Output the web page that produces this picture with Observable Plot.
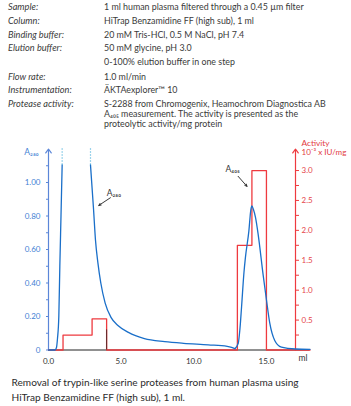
<!DOCTYPE html>
<html><head><meta charset="utf-8">
<script src="https://cdn.jsdelivr.net/npm/d3@7"></script>
<script src="https://cdn.jsdelivr.net/npm/@observablehq/plot@0.6"></script>
<style>
html,body{margin:0;padding:0;background:#fff;}
body{width:351px;height:406px;position:relative;overflow:hidden;font-family:Lato,"Open Sans",sans-serif;color:#333;}
.hl{position:absolute;font-size:8.85px;line-height:12px;white-space:nowrap;color:#3a3a3a;}
.lab{left:8px;font-style:italic;font-size:9.2px;}
.val{left:104px;}
#chart{position:absolute;left:0;top:135px;width:351px;height:240px;}
.cap{position:absolute;left:11.5px;font-size:10.1px;line-height:14px;white-space:nowrap;color:#2b2b2b;}
</style></head><body>
<div id="header"></div>
<div id="chart"></div>
<div id="caption"></div>
<script>
// ---------- text ----------
const specLabels = ["Sample:", "Column:", "Binding buffer:", "Elution buffer:", "", "Flow rate:", "Instrumentation:", "Protease activity:"];
const specValues = [
  "1 ml human plasma filtered through a 0.45 µm filter",
  "HiTrap Benzamidine FF (high sub), 1 ml",
  "20 mM Tris-HCl, 0.5 M NaCl, pH 7.4",
  "50 mM glycine, pH 3.0",
  "0-100% elution buffer in one step",
  "1.0 ml/min",
  "ÄKTAexplorer™ 10",
  "S-2288 from Chromogenix, Heamochrom Diagnostica AB"
];
const specNote = ["A₄₀₅ measurement. The activity is presented as the", "proteolytic activity/mg protein"];
const captionLines = ["Removal of trypin-like serine proteases from human plasma using", "HiTrap Benzamidine FF (high sub), 1 ml."];

// ---------- data ----------
// A280 trace (ml, absorbance); the main peak goes off scale
const a280Rise = [
  {ml: 0, a: 0}, {ml: 0.45, a: 0}, {ml: 0.55, a: 0.015}, {ml: 0.62, a: 0.07},
  {ml: 0.71, a: 0.2}, {ml: 0.78, a: 0.5}, {ml: 0.86, a: 0.8}, {ml: 0.94, a: 1.105}
];
const a280Decay = [
  {ml: 2.89, a: 1.105}, {ml: 3.1, a: 0.84}, {ml: 3.23, a: 0.66}, {ml: 3.4, a: 0.52},
  {ml: 3.6, a: 0.4}, {ml: 3.9, a: 0.28}, {ml: 4.3, a: 0.195}, {ml: 4.8, a: 0.145},
  {ml: 5.5, a: 0.105}, {ml: 6.6, a: 0.068}, {ml: 8.0, a: 0.05}, {ml: 9.3, a: 0.04},
  {ml: 11.0, a: 0.031}, {ml: 12.3, a: 0.022}, {ml: 12.6, a: 0.016}, {ml: 12.83, a: 0.008}
];
// A405 elution peak
const a405Peak = [
  {ml: 12.83, a: 0.008}, {ml: 13.06, a: 0.04}, {ml: 13.17, a: 0.12}, {ml: 13.29, a: 0.26},
  {ml: 13.45, a: 0.46}, {ml: 13.55, a: 0.55}, {ml: 13.79, a: 0.71}, {ml: 13.93, a: 0.84},
  {ml: 14.0, a: 0.86}, {ml: 14.1, a: 0.84}, {ml: 14.25, a: 0.79}, {ml: 14.43, a: 0.69},
  {ml: 14.77, a: 0.45}, {ml: 15.0, a: 0.3}, {ml: 15.23, a: 0.16}, {ml: 15.57, a: 0.057},
  {ml: 16.03, a: 0.017}, {ml: 17.0, a: 0.006}, {ml: 18.0, a: 0.004}
];
// Protease activity per fraction (10^-3 x IU/mg), step starts
const activity = [
  {ml: 0, act: 0}, {ml: 1, act: 0.25}, {ml: 3, act: 0.52}, {ml: 4, act: 0},
  {ml: 13, act: 1.75}, {ml: 14, act: 3.0}, {ml: 15, act: 0}, {ml: 18, act: 0}
];
const fractionMarks = [{ml: 4, a: 0.12}];

const xTicks = [0, 5, 10, 15];
const xTickLabels = ["0.0", "5.0", "10.0", "15.0"];
const xUnit = "ml";
const leftTicks = [0, 0.2, 0.4, 0.6, 0.8, 1.0];
const leftTickLabels = ["0", "0.20", "0.40", "0.60", "0.80", "1.00"];
const leftMinor = [0.1, 0.3, 0.5, 0.7, 0.9, 1.1];
const rightTicks = [0.5, 1.0, 1.5, 2.0, 2.5, 3.0];
const rightTickLabels = ["0.5", "1.0", "1.5", "2.0", "2.5", "3.0"];
const rightMinor = [0.25, 0.75, 1.25, 1.75, 2.25, 2.75];
const leftTitle = "A₂₈₀";
const rightTitle = "Activity";
const rightUnit = "10⁻³ x IU/mg";
const annotations = [
  {label: "A₂₈₀", lx: 4.5, ly: 0.935, x1: 4.26, y1: 0.909, x2: 3.46, y2: 0.863},
  {label: "A₄₀₅", lx: 12.68, ly: 1.078, x1: 13.05, y1: 1.037, x2: 13.66, y2: 0.977}
];

// ---------- layout / scales ----------
const yMax = 1.2;          // top of A axis
const actMax = 3.36;       // top of activity axis (same height)
const k = yMax / actMax;   // activity -> A axis units
const xRight = 17;         // position of the activity axis
const xEnd = 18;           // end of the ml axis line

const blue = "#1a6fc9", axisBlue = "#5b86d8", labelBlue = "#3f7fd4";
const red = "#ee3a3f", labelRed = "#e5454b";

// header
const header = document.getElementById("header");
const rowY = [7.3, 21.3, 34.7, 48.3, 62, 76.7, 90, 104];
specLabels.forEach((t, i) => {
  if (t) { const d = document.createElement("div"); d.className = "hl lab"; d.style.top = (rowY[i] - 6) + "px"; d.textContent = t; header.appendChild(d); }
  const v = document.createElement("div"); v.className = "hl val"; v.style.top = (rowY[i] - 6) + "px"; v.textContent = specValues[i]; header.appendChild(v);
});
const noteY = [114, 124];
specNote.forEach((t, i) => {
  const v = document.createElement("div"); v.className = "hl val"; v.style.top = (noteY[i] - 6) + "px"; v.textContent = t; header.appendChild(v);
});
const caption = document.getElementById("caption");
const capY = [381.7, 397.3];
captionLines.forEach((t, i) => {
  const d = document.createElement("div"); d.className = "cap"; d.style.top = (capY[i] - 7) + "px"; d.textContent = t; caption.appendChild(d);
});

const fmt = (ticks, labels) => { const m = new Map(ticks.map((t, i) => [t, labels[i]])); return d => m.has(d) ? m.get(d) : ""; };
const rightMap = new Map(rightTicks.map((t, i) => [t * k, rightTickLabels[i]]));

const chart = Plot.plot({
  width: 351, height: 240,
  marginLeft: 48, marginRight: 56, marginTop: 13.5, marginBottom: 25.5,
  x: {domain: [0, xRight]},
  y: {domain: [0, yMax]},
  style: {fontFamily: "Lato, sans-serif", fontSize: "8px", background: "transparent", overflow: "visible"},
  marks: [
    // ml axis
    Plot.ruleY([0], {x1: 0, x2: xEnd, stroke: "#222", strokeWidth: 1}),
    Plot.axisX({ticks: xTicks, tickFormat: fmt(xTicks, xTickLabels), tickSize: 0, tickPadding: 8, label: null, fill: "#333"}),
    Plot.text([xUnit], {x: xEnd, y: 0, text: d => d, dx: -7, dy: 8, fill: "#333", fontSize: 8.5}),
    // left A axis
    Plot.arrow([{y2: yMax}], {x1: 0, y1: 0, x2: 0, y2: "y2", stroke: axisBlue, strokeWidth: 1.2, headLength: 6, headAngle: 70}),
    Plot.axisY({ticks: leftTicks, tickFormat: fmt(leftTicks, leftTickLabels), tickSize: 2, tickPadding: 6, stroke: axisBlue, fill: labelBlue, label: null}),
    Plot.axisY({ticks: leftMinor, tickFormat: () => "", tickSize: 2, stroke: axisBlue, label: null}),
    Plot.text([leftTitle], {x: 0, y: yMax, text: d => d, dx: -17, dy: 3.5, fill: labelBlue, fontSize: 8.5}),
    // right activity axis
    Plot.arrow([{y2: yMax}], {x1: xRight, y1: 0, x2: xRight, y2: "y2", stroke: red, strokeWidth: 1.2, headLength: 6, headAngle: 70}),
    Plot.axisY({anchor: "right", ticks: rightTicks.map(t => t * k), tickFormat: d => rightMap.get(d) ?? "", tickSize: 3, tickPadding: 3, stroke: red, fill: labelRed, label: null}),
    Plot.axisY({anchor: "right", ticks: rightMinor.map(t => t * k), tickFormat: () => "", tickSize: 3, stroke: red, label: null}),
    Plot.text([rightTitle], {x: xRight, y: yMax, text: d => d, dx: 6, dy: -6, textAnchor: "start", fill: "#e23a40", fontSize: 8.3}),
    Plot.text([rightUnit], {x: xRight, y: yMax, text: d => d, dx: 6, dy: 3.5, textAnchor: "start", fill: "#e23a40", fontSize: 8}),
    // activity steps
    Plot.line(activity, {x: "ml", y: d => d.act * k, curve: "step-after", stroke: red, strokeWidth: 1.3}),
    Plot.ruleX(fractionMarks, {x: "ml", y1: 0, y2: "a", stroke: "#5a2b2b", strokeWidth: 1}),
    // absorbance traces
    Plot.line(a280Rise, {x: "ml", y: "a", stroke: blue, strokeWidth: 1.3, curve: "monotone-x"}),
    Plot.line(a280Decay, {x: "ml", y: "a", stroke: blue, strokeWidth: 1.3, curve: "monotone-x"}),
    Plot.line(a405Peak, {x: "ml", y: "a", stroke: blue, strokeWidth: 1.3, curve: "monotone-x"}),
    // off-scale continuation (dotted)
    Plot.ruleX([a280Rise[a280Rise.length - 1], a280Decay[0]], {x: "ml", y1: "a", y2: yMax, stroke: "#38a8d8", strokeWidth: 1.2, strokeDasharray: "1,2"}),
    // annotations
    Plot.arrow(annotations, {x1: "x1", y1: "y1", x2: "x2", y2: "y2", stroke: "#222", strokeWidth: 0.9, headLength: 4, headAngle: 50}),
    Plot.text(annotations, {x: "lx", y: "ly", text: "label", fill: "#333", fontSize: 8.5})
  ]
});
document.getElementById("chart").appendChild(chart);
</script>
</body></html>
